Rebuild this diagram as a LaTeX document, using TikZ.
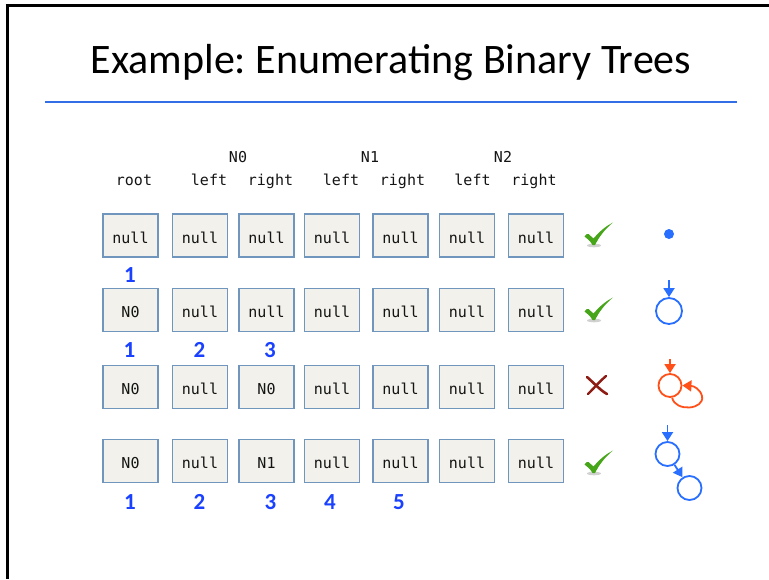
\documentclass[tikz,border=0pt]{standalone}
\usepackage{fontspec}
\setmainfont{Carlito}
\newfontfamily\monofont{DejaVu Sans Mono}
\usetikzlibrary{arrows.meta}
\frenchspacing
\definecolor{cellfill}{RGB}{242,241,235}
\definecolor{cellline}{RGB}{112,150,190}
\definecolor{numblue}{RGB}{25,65,255}
\definecolor{treeblue}{RGB}{40,110,255}
\definecolor{treered}{RGB}{255,80,25}
\definecolor{rulblue}{RGB}{50,110,230}
\definecolor{chkgreen}{RGB}{70,165,25}
\definecolor{xred}{RGB}{140,28,20}
\definecolor{txt}{RGB}{20,20,20}
\begin{document}
\begin{tikzpicture}[x=1pt,y=-1pt,
  cell/.style={draw=cellline, line width=1.1pt, fill=cellfill, minimum width=55pt,
    minimum height=43pt, inner sep=0pt, font=\monofont\fontsize{15}{18}\selectfont,
    text=txt, text height=15pt, text depth=0pt},
  hdr/.style={font=\monofont\fontsize{15}{18}\selectfont, text=txt, inner sep=0pt, anchor=base},
  num/.style={font=\bfseries\fontsize{23}{26}\selectfont, text=numblue, inner sep=0pt},
  tnode/.style={circle, draw, line width=1.8pt, minimum size=26pt, inner sep=0pt},
  tarrow/.style={line width=1.8pt, -{Triangle[length=9pt,width=11pt]}},
  chk/.pic={
    \fill[black!40, opacity=0.45] (-5,11.5) ellipse (7 and 1.8);
    \fill[chkgreen] (-14.5,2.5) .. controls (-13,0) and (-11.5,-0.5) .. (-10.5,0)
      -- (-5.5,4.5) .. controls (1,-3) and (7,-8) .. (14,-11.5)
      .. controls (6,-5) and (0,3) .. (-4,11) -- (-6.5,11)
      .. controls (-9,7) .. cycle;
  },
  xmark/.pic={
    \draw[xred, line width=2.6pt, line cap=round] (-10,-8) .. controls (-2,-1) and (3,5) .. (10,9);
    \draw[xred, line width=2.4pt, line cap=round] (-9,9) .. controls (-2,2) and (3,-4) .. (9,-9);
  }
]
\useasboundingbox (0,0) rectangle (769,579);
% frame
\draw[black, line width=3pt] (5.5,5.5) -- (769,5.5);
\draw[black, line width=3pt] (7,5.5) -- (7,579);
% title
\node[font=\fontsize{42}{50}\selectfont, anchor=base, inner sep=0pt] (title) at (391,73) {Example: Enumerating Binary Trees};
\coordinate (ruleL) at (45,102);
\coordinate (ruleR) at (737,102);
\draw[rulblue, line width=2.5pt] (ruleL) -- (ruleR);
% headers
\node[hdr] (hN0) at (238,162) {N0};
\node[hdr] (hN1) at (370,162) {N1};
\node[hdr] (hN2) at (503,162) {N2};
\node[hdr] (hroot) at (134,185) {root};
\node[hdr] (hl0) at (209,185) {left};
\node[hdr] (hr0) at (270.5,185) {right};
\node[hdr] (hl1) at (341,185) {left};
\node[hdr] (hr1) at (402.5,185) {right};
\node[hdr] (hl2) at (472.5,185) {left};
\node[hdr] (hr2) at (534,185) {right};
% rows of cells
\foreach \x/\t [count=\i] in {130.5/null,200/null,266.5/null,332/null,400.5/null,467/null,536/null}
  \node[cell] (ca-\i) at (\x,235.5) {\t};
\foreach \x/\t [count=\i] in {130.5/N0,200/null,266.5/null,332/null,400.5/null,467/null,536/null}
  \node[cell] (cb-\i) at (\x,310) {\t};
\foreach \x/\t [count=\i] in {130.5/N0,200/null,266.5/N0,332/null,400.5/null,467/null,536/null}
  \node[cell] (cc-\i) at (\x,387) {\t};
\foreach \x/\t [count=\i] in {130.5/N0,200/null,266.5/N1,332/null,400.5/null,467/null,536/null}
  \node[cell] (cd-\i) at (\x,461) {\t};
% numbers
\node[num] (na-1) at (130,275) {1};
\node[num] (nb-1) at (129.5,350) {1};
\node[num] (nb-2) at (199.5,350) {2};
\node[num] (nb-3) at (270,350) {3};
\node[num] (nd-1) at (130,502) {1};
\node[num] (nd-2) at (199.5,502) {2};
\node[num] (nd-3) at (270.5,502) {3};
\node[num] (nd-4) at (330,502) {4};
\node[num] (nd-5) at (399,502) {5};
% verdicts
\pic at (599,234) {chk};
\pic at (599,309) {chk};
\pic at (597,385) {xmark};
\pic at (599,462) {chk};
% trees
\node[circle, fill=treeblue, minimum size=10pt, inner sep=0pt] (t1) at (669,234) {};
\node[tnode, draw=treeblue] (t2) at (669,311) {};
\coordinate (t2in) at (669,280);
\draw[tarrow, treeblue] (t2in) -- (t2);
\node[tnode, draw=treered, minimum size=23pt] (t3) at (670,385.5) {};
\coordinate (t3in) at (670,359);
\draw[tarrow, treered] (t3in) -- (t3);
\draw[tarrow, treered] (t3.-80) .. controls (675,412) and (705,410) .. (702,396)
   .. controls (700,389) and (694,386) .. (t3.east);
\node[tnode, draw=treeblue, minimum size=24pt] (t4a) at (667.5,454) {};
\node[tnode, draw=treeblue, minimum size=24pt] (t4b) at (689.5,488) {};
\coordinate (t4in) at (667.5,425);
\draw[tarrow, treeblue] (t4in) -- (t4a);
\draw[tarrow, treeblue] (t4a) -- (t4b);
\end{tikzpicture}
\end{document}
